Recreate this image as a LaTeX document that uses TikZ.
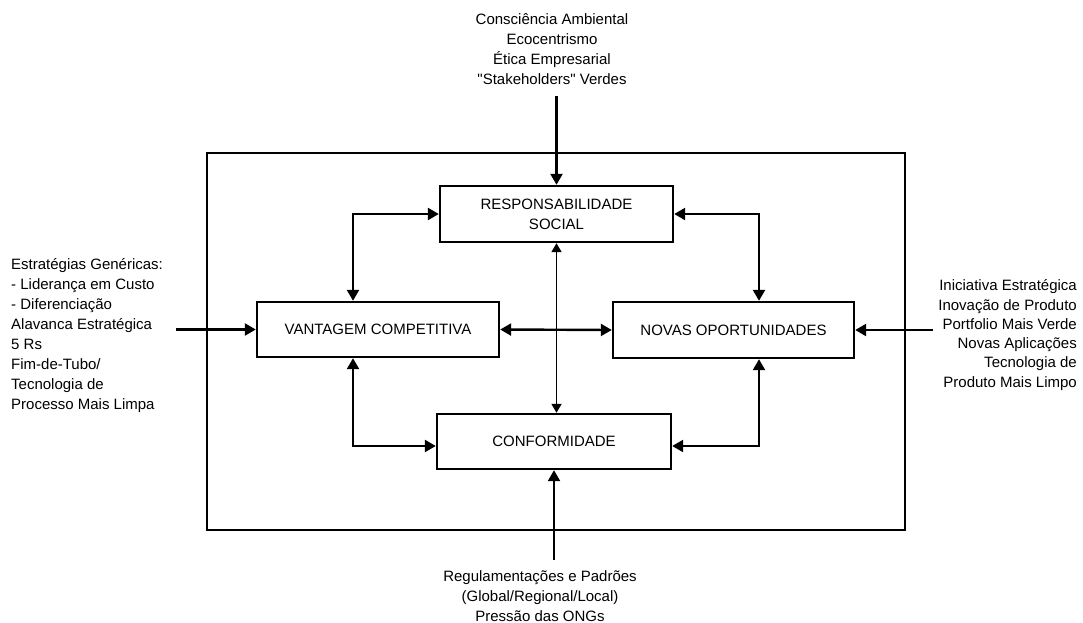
\documentclass[tikz,border=0pt]{standalone}
\usepackage{fontspec}
\setmainfont{Liberation Sans}
\usetikzlibrary{arrows.meta}
\begin{document}
\begin{tikzpicture}[x=1pt,y=-1pt, line width=2.4pt,
  box/.style={draw, line width=2.4pt, inner sep=0pt, align=center, font=\fontsize{15}{20}\selectfont},
  lbl/.style={inner sep=0pt, font=\fontsize{15}{20}\selectfont},
  lblr/.style={inner sep=0pt, font=\fontsize{15}{19.3}\selectfont},
  arr/.style={-{Triangle[length=11pt,width=12pt]}},
  dbl/.style={{Triangle[length=11pt,width=12pt]}-{Triangle[length=11pt,width=12pt]}},
  dblthin/.style={line width=1.8pt,{Triangle[length=9pt,width=10pt]}-{Triangle[length=9pt,width=10pt]}}]
\useasboundingbox (0,0) rectangle (1083,623);
\node[draw, line width=2.4pt, minimum width=698pt, minimum height=377pt, inner sep=0pt] (frame) at (556,341.5) {};
\node[box, minimum width=233pt, minimum height=56pt] (resp) at (556.5,214) {RESPONSABILIDADE\\SOCIAL};
\node[box, minimum width=242pt, minimum height=55pt] (vant) at (378,329.5) {VANTAGEM COMPETITIVA};
\node[box, minimum width=241pt, minimum height=56pt] (novas) at (733.5,330) {NOVAS OPORTUNIDADES};
\node[box, minimum width=234pt, minimum height=55pt] (conf) at (554,441.5) {CONFORMIDADE};
\coordinate (lx) at (353,0);
\coordinate (rx) at (759,0);
\coordinate (by) at (0,446);
\draw[dbl] (resp.west) -| (lx |- vant.north);
\draw[dbl] (resp.east) -| (rx |- novas.north);
\draw[dbl] (lx |- vant.south) |- (conf.west |- by);
\draw[dbl] (rx |- novas.south) |- (conf.east |- by);
\draw[dbl] (vant.east) -- (novas.west);
\draw[dblthin] (resp.south) -- (resp.south |- conf.north);
\node[lbl, align=center] (toptxt) at (552,49.5) {Consciência Ambiental\\Ecocentrismo\\Ética Empresarial\\\textquotedbl Stakeholders\textquotedbl{} Verdes};
\node[lbl, align=center] (bottxt) at (540,596.5) {Regulamentações e Padrões\\(Global/Regional/Local)\\Pressão das ONGs};
\node[lbl, align=left, anchor=west] (ltxt) at (10,336) {Estratégias Genéricas:\\- Liderança em Custo\\- Diferenciação\\Alavanca Estratégica\\5 Rs\\Fim-de-Tubo/\\Tecnologia de\\Processo Mais Limpa};
\node[lblr, align=right, anchor=east] (rtxt) at (1078,335) {Iniciativa Estratégica\\Inovação de Produto\hspace*{4pt}\\Portfolio Mais Verde\\Novas Aplicações\\Tecnologia de\\Produto Mais Limpo};
\coordinate (topend) at (556.5,96);
\coordinate (botend) at (554,560);
\coordinate (lend) at (176,329.5);
\coordinate (rend) at (933,330);
\draw[arr] (topend) -- (resp.north);
\draw[arr] (botend) -- (conf.south);
\draw[arr] (lend) -- (vant.west);
\draw[arr] (rend) -- (novas.east);
\end{tikzpicture}
\end{document}
